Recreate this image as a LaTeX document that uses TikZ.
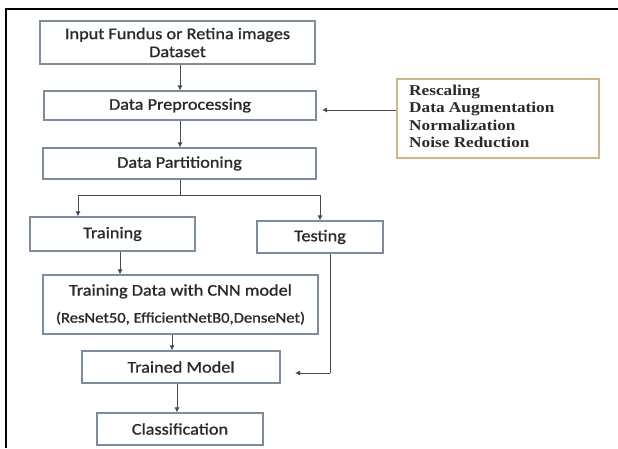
\documentclass[tikz,border=0pt]{standalone}
\usepackage{fontspec}
\setmainfont{Carlito}
\newfontface\boxfont{Carlito}[FakeBold=1.1, FakeStretch=1.12]
\newfontface\serifpart{Liberation Serif Bold}[FakeStretch=1.15]
\usetikzlibrary{arrows.meta,calc}
\definecolor{boxline}{HTML}{7F8C9C}
\definecolor{tanline}{HTML}{D2B48C}
\definecolor{ink}{HTML}{2A2A2A}
\tikzset{
  flowbox/.style={draw=boxline, line width=1.1pt, inner sep=0pt, align=center,
    text=ink, font=\boxfont\fontsize{16.3}{18}\selectfont},
  arr/.style={draw=ink!85, line width=0.8pt, -{Latex[length=5pt,width=5pt]}},
  link/.style={draw=ink!85, line width=0.8pt},
}
\begin{document}
\begin{tikzpicture}[x=1pt,y=-1pt]
\useasboundingbox (0,0) rectangle (618,448);
\fill[white] (0,0) rectangle (618,448);
% outer frame (top and left edges)
\draw[line width=2pt, black] (5.5,448) -- (5.5,8.5) -- (618,8.5);

% main flow
\node[flowbox, minimum width=275pt, minimum height=43pt] (in) at (177.5,42.5)
  {Input Fundus or Retina images\\Dataset};
\node[flowbox, minimum width=272pt, minimum height=29pt] (pre) at (180,105.5)
  {Data Preprocessing};
\node[flowbox, minimum width=273pt, minimum height=31pt] (part) at (179.5,163.5)
  {Data Partitioning};
\node[flowbox, minimum width=165pt, minimum height=34pt] (train) at (112.5,234)
  {Training};
\node[flowbox, minimum width=126pt, minimum height=32pt] (test) at (320,237)
  {Testing};
\node[flowbox, minimum width=275pt, minimum height=59pt] (cnn) at (180.5,304.5)
  {Training Data with CNN model\\[9pt]{\fontsize{14.8}{16}\selectfont(ResNet50, EfficientNetB0,DenseNet)}};
\node[flowbox, minimum width=198pt, minimum height=32pt] (trained) at (181,367)
  {Trained Model};
\node[flowbox, minimum width=166pt, minimum height=32pt] (cls) at (180,429)
  {Classification};

% preprocessing steps
\node[draw=tanline, line width=1.1pt, minimum width=202pt, minimum height=79pt,
  inner sep=0pt, text=ink] (aug) at (498,118.5) {};
\node[anchor=north west, inner sep=0pt, align=left, text=ink,
  font=\serifpart\fontsize{15}{17.3}\selectfont] (augtext) at (409,85)
  {Rescaling\\Data Augmentation\\Normalization\\Noise Reduction};

% connectors
\coordinate (split) at (180,195);
\coordinate (splitL) at (78,195);
\coordinate (splitR) at (320,195);
\coordinate (testturn) at (330,373);
\coordinate (testend) at (295,373);
\coordinate (augend) at (322,110);

\draw[arr] (in.south -| pre.north) -- (pre.north);
\draw[arr] (pre.south) -- (pre.south |- part.north);
\draw[link] (part.south -| split) -- (split);
\draw[link] (splitL) -- (splitR);
\draw[arr] (splitL) -- (splitL |- train.north);
\draw[arr] (splitR) -- (splitR |- test.north);
\draw[arr] (train.south -| 120,0) -- (cnn.north -| 120,0);
\draw[arr] (cnn.south -| 172,0) -- (trained.north -| 172,0);
\draw[arr] (trained.south -| 177,0) -- (cls.north -| 177,0);
\draw[link] (test.south -| testturn) -- (testturn);
\draw[arr] (testturn) -- (testend);
\draw[arr] (aug.west |- augend) -- (augend);
\end{tikzpicture}
\end{document}
